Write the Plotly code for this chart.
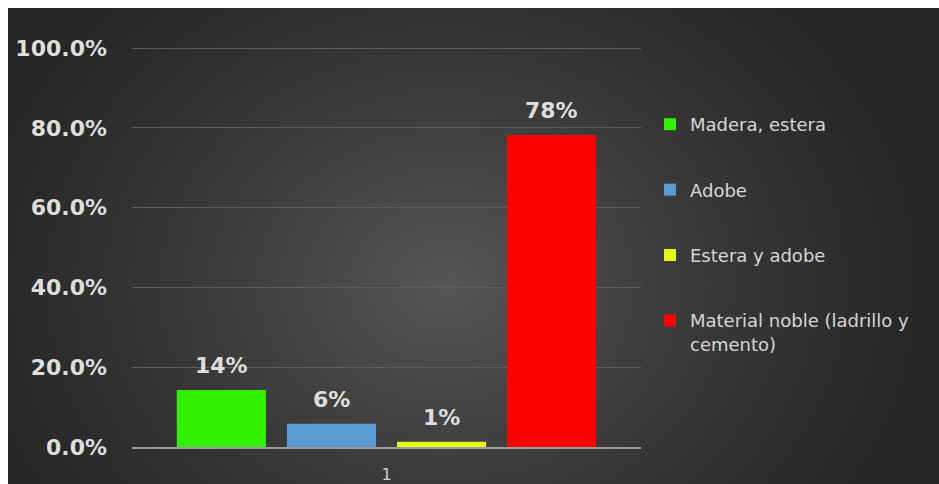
import numpy as np
import plotly.graph_objects as go

# ---- data -------------------------------------------------------------
categories = ["1"]
series_names = [
    "Madera, estera",
    "Adobe",
    "Estera y adobe",
    "Material noble (ladrillo y<br>cemento)",
]
series_values = [0.143, 0.058, 0.013, 0.782]
series_colors = ["#33ef00", "#5b9bd5", "#e4f81c", "#ff0000"]
y_tick_values = [0.0, 0.2, 0.4, 0.6, 0.8, 1.0]

# ---- geometry / style -------------------------------------------------
W, H = 939, 484
BARGAP = 0.135
BARGROUPGAP = 0.19
Y_TOP = 1.003          # a hair above 100% so the top gridline is kept
TEXT_COLOR = "#dedede"
FONT = "DejaVu Sans"

fig = go.Figure()

# soft radial light on a dark panel, drawn as a smoothed heatmap behind the chart
gx = np.linspace(0, 1, 60)
gy = np.linspace(0, 1, 40)
GX, GY = np.meshgrid(gx, gy)
rad = np.sqrt(((GX - 0.47) / 0.56) ** 2 + ((GY - 0.42) / 0.90) ** 2)
glow = np.clip(1 - rad, 0, 1) ** 1.3
fig.add_trace(go.Heatmap(
    x=gx, y=gy, z=glow, zsmooth="best", zmin=0, zmax=1,
    colorscale=[[0, "#252525"], [1, "#565656"]],
    showscale=False, hoverinfo="skip", showlegend=False,
    xaxis="x", yaxis="y",
))

# grouped bars, one trace per wall material
for i, (name, val, col) in enumerate(zip(series_names, series_values, series_colors)):
    fig.add_trace(go.Bar(
        x=categories, y=[val], name=name, legendgroup=f"g{i}",
        marker=dict(color=col, line=dict(width=0)),
        xaxis="x2", yaxis="y2", hoverinfo="skip",
    ))

# value labels above each bar, placed at the centre of each grouped slot
slot = (1 - BARGAP) / len(series_values)
for i, val in enumerate(series_values):
    fig.add_annotation(
        x=-0.5 + BARGAP / 2 + slot * (i + 0.5), y=val,
        xref="x2", yref="y2", text=f"{val:.0%}", showarrow=False,
        yanchor="bottom", yshift=10,
        font=dict(family=FONT, size=22, color=TEXT_COLOR, weight="bold"),
    )

y_bottom_px = 447
y_top_px = 48 - (Y_TOP - 1) * 399

fig.update_layout(
    width=W, height=H,
    margin=dict(l=0, r=0, t=0, b=0, autoexpand=False),
    paper_bgcolor="#ffffff",
    plot_bgcolor="rgba(0,0,0,0)",
    barmode="group", bargap=BARGAP, bargroupgap=BARGROUPGAP,
    xaxis=dict(domain=[8 / W, 1], range=[0, 1], visible=False,
               fixedrange=True, automargin=False),
    yaxis=dict(domain=[0, 1 - 8 / H], range=[0, 1], visible=False,
               fixedrange=True, automargin=False),
    xaxis2=dict(
        domain=[132 / W, 641 / W], anchor="y2", type="category",
        showgrid=False, zeroline=False, ticks="", automargin=False,
        showline=True, linecolor="#9c9c9c", linewidth=1.5,
        tickfont=dict(family=FONT, size=16, color="#d0d0d0"),
        ticklabelstandoff=12,
    ),
    yaxis2=dict(
        domain=[1 - y_bottom_px / H, 1 - y_top_px / H], anchor="x2",
        range=[0, Y_TOP], automargin=False,
        tickvals=y_tick_values, tickformat=".1%",
        showgrid=True, gridcolor="#5c5c5c", gridwidth=1.2,
        zeroline=False, showline=False, ticks="",
        tickfont=dict(family=FONT, size=22, color=TEXT_COLOR, weight="bold"),
        ticklabelstandoff=24,
    ),
    legend=dict(
        x=650 / W, y=1 - 106 / H, xanchor="left", yanchor="top",
        font=dict(family=FONT, size=18, color="#d6d6d6"),
        bgcolor="rgba(0,0,0,0)", tracegroupgap=39, valign="top",
        traceorder="grouped",
    ),
)

fig.write_html("out.html")
